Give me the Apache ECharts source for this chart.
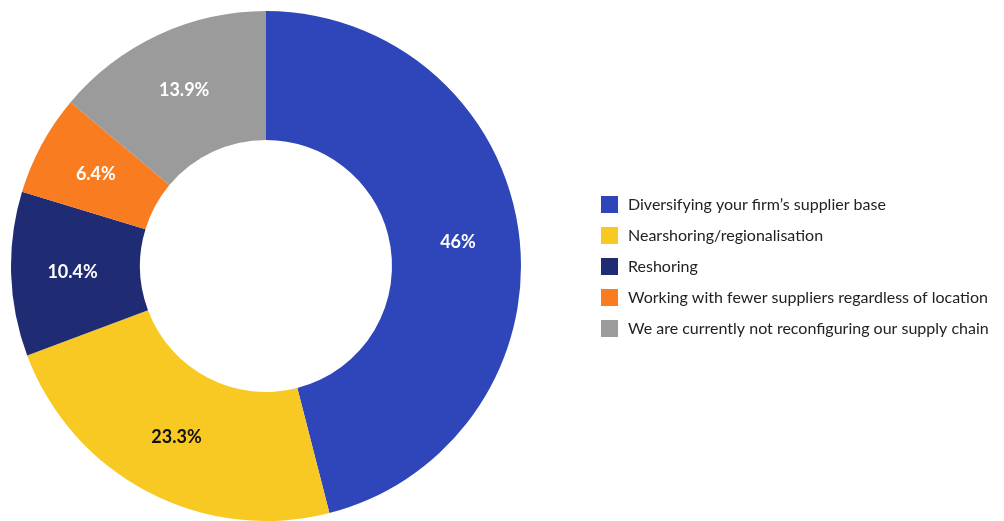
<!DOCTYPE html>
<html>
<head>
<meta charset="utf-8">
<script src="https://cdn.jsdelivr.net/npm/echarts@6/dist/echarts.min.js"></script>
<style>
  html, body { margin: 0; padding: 0; background: #fff; }
  #main { width: 1004px; height: 521px; }
</style>
</head>
<body>
<div id="main"></div>
<script>
var categories = [
  'Diversifying your firm\u2019s supplier base',
  'Nearshoring/regionalisation',
  'Reshoring',
  'Working with fewer suppliers regardless of location',
  'We are currently not reconfiguring our supply chain'
];
var values = [46, 23.3, 10.4, 6.4, 13.9];
var valueLabels = ['46%', '23.3%', '10.4%', '6.4%', '13.9%'];
var colors = ['#2E46B9', '#F8C823', '#1F2C74', '#F97C21', '#9B9B9B'];
var labelColors = ['#fff', '#111', '#fff', '#fff', '#fff'];

var myChart = echarts.init(document.getElementById('main'));

var pieData = categories.map(function (name, i) {
  return {
    name: name,
    value: values[i],
    itemStyle: { color: colors[i] },
    label: { color: labelColors[i] }
  };
});

var option = {
  animation: false,
  legend: {
    orient: 'vertical',
    left: 596,
    top: 191,
    itemWidth: 17,
    itemHeight: 17,
    itemGap: 14,
    icon: 'rect',
    textStyle: {
      color: '#222',
      fontSize: 16,
      fontFamily: 'Lato',
      padding: [0, 0, 0, 5]
    },
    data: categories
  },
  series: [
    {
      type: 'pie',
      center: [266, 266],
      radius: [126, 255],
      startAngle: 90,
      clockwise: true,
      data: pieData,
      label: {
        show: true,
        position: 'inside',
        fontFamily: 'Lato',
        fontSize: 18,
        fontWeight: 'bold',
        formatter: function (p) { return valueLabels[p.dataIndex]; }
      },
      labelLine: { show: false },
      itemStyle: { borderWidth: 0 }
    }
  ]
};

myChart.setOption(option);
</script>
</body>
</html>
